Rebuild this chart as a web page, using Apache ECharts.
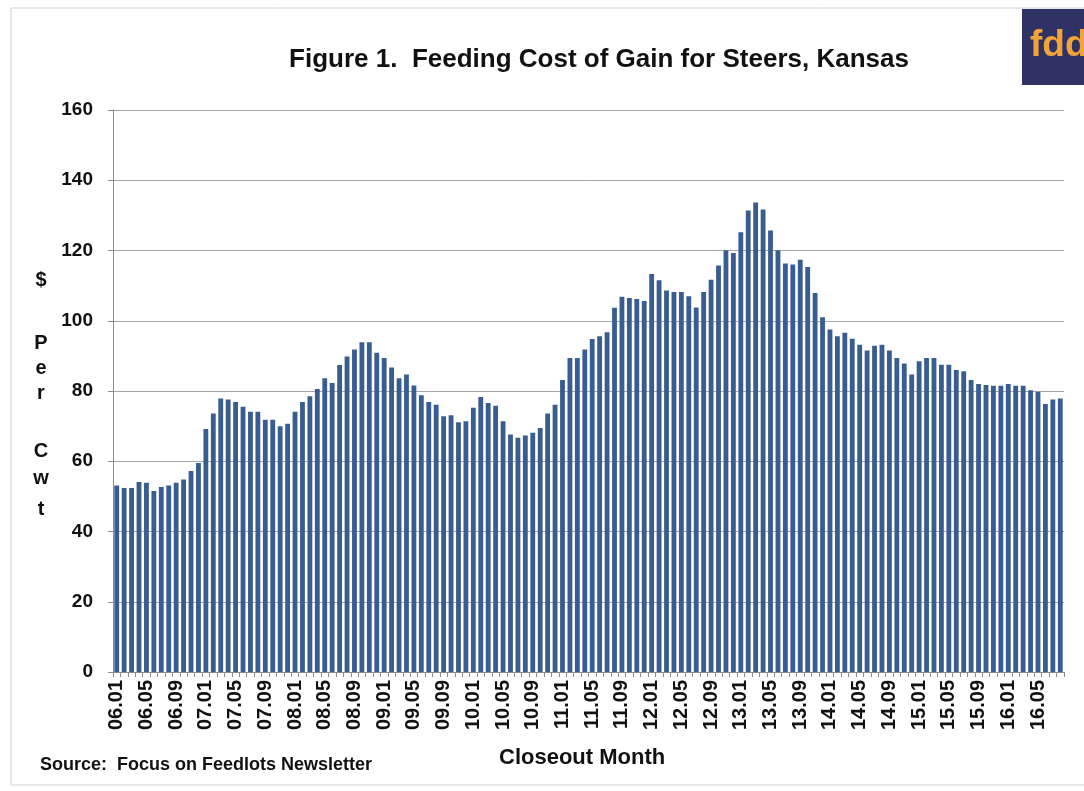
<!DOCTYPE html>
<html><head><meta charset="utf-8">
<script src="https://cdn.jsdelivr.net/npm/echarts@6/dist/echarts.min.js"></script>
<style>html,body{margin:0;padding:0;background:#fff}#c{width:1084px;height:791px}</style>
</head><body><div id="c"></div>
<script>
const years = ['06','07','08','09','10','11','12','13','14','15','16'];
const months = ['01','02','03','04','05','06','07','08','09','10','11','12'];
const lastMonthCount = 8; // 16.01 .. 16.08
const categories = [];
years.forEach((y, yi) => {
  const n = yi === years.length - 1 ? lastMonthCount : 12;
  for (let m = 0; m < n; m++) categories.push(y + '.' + months[m]);
});

const cost2006 = [53.1,52.4,52.4,54.1,53.9,51.5,52.7,53.1,53.9,54.8,57.2,59.5];
const cost2007 = [69.2,73.6,77.9,77.6,76.9,75.5,74.1,74.1,71.8,71.8,70.0,70.7];
const cost2008 = [74.1,76.9,78.5,80.6,83.6,82.3,87.4,89.8,91.8,93.9,93.9,90.9];
const cost2009 = [89.4,86.7,83.6,84.7,81.6,78.8,76.9,76.1,72.8,73.1,71.1,71.4];
const cost2010 = [75.2,78.3,76.6,75.8,71.4,67.6,66.7,67.3,68.1,69.5,73.6,76.1];
const cost2011 = [83.1,89.4,89.4,91.8,94.8,95.6,96.7,103.7,106.8,106.5,106.2,105.6];
const cost2012 = [113.3,111.5,108.6,108.2,108.2,107.0,103.8,108.2,111.7,115.7,120.1,119.3];
const cost2013 = [125.2,131.4,133.7,131.7,125.7,120.1,116.3,116.0,117.4,115.3,107.9,101.0];
const cost2014 = [97.5,95.6,96.6,94.9,93.2,91.5,92.9,93.2,91.5,89.4,87.8,84.7];
const cost2015 = [88.5,89.4,89.4,87.5,87.5,86.0,85.6,83.1,82.0,81.7,81.5,81.5];
const cost2016 = [82.0,81.5,81.5,80.2,79.8,76.3,77.6,77.9];
const values = [].concat(cost2006,cost2007,cost2008,cost2009,cost2010,cost2011,cost2012,cost2013,cost2014,cost2015,cost2016);

const yTicks = [0,20,40,60,80,100,120,140,160];
const FONT = "'Liberation Sans', Arial, sans-serif";

const yTitle = [['$',280],['P',343],['e',368],['r',393],['C',451],['w',478],['t',509]];

const chart = echarts.init(document.getElementById('c'));
chart.setOption({
  backgroundColor: '#ffffff',
  animation: false,
  title: {
    text: 'Figure 1.  Feeding Cost of Gain for Steers, Kansas',
    left: 594, top: 42, textAlign: 'center',
    textStyle: {fontFamily: FONT, fontWeight: 'bold', fontSize: 26, color: '#111'}
  },
  grid: {left: 113, right: 20, top: 110, bottom: 119},
  xAxis: {
    type: 'category', data: categories,
    axisLine: {lineStyle: {color: '#8c8c8c', width: 1}},
    axisTick: {show: true, interval: 0, length: 5, lineStyle: {color: '#8c8c8c'}},
    axisLabel: {interval: 3, rotate: 90, fontFamily: FONT, fontWeight: 'bold', fontSize: 20, color: '#111', margin: 8}
  },
  yAxis: {
    type: 'value', min: yTicks[0], max: yTicks[yTicks.length-1], interval: 20,
    axisLine: {show: true, lineStyle: {color: '#8c8c8c'}},
    axisTick: {show: true, length: 5, lineStyle: {color: '#8c8c8c'}},
    splitLine: {lineStyle: {color: '#a6a6a6', width: 1}},
    axisLabel: {fontFamily: FONT, fontWeight: 'bold', fontSize: 19, color: '#111', margin: 20}
  },
  series: [{
    type: 'bar', data: values, barCategoryGap: '35%',
    itemStyle: {color: '#3a5d91'}
  }],
  graphic: [
    {type: 'rect', shape: {x: 11, y: 8, width: 1100, height: 777}, style: {fill: 'none', stroke: '#d0d0d0', lineWidth: 1}, z: -1},
    {type: 'rect', shape: {x: 1022, y: 9, width: 62, height: 76}, style: {fill: '#2e3265'}},
    {type: 'text', left: 1030, top: 27, style: {text: 'fdd', fill: '#f2a33a', font: "bold 37px " + FONT}},
    {type: 'text', left: 499, top: 747, style: {text: 'Closeout Month', fill: '#111', font: "bold 22px " + FONT}},
    {type: 'text', left: 40, top: 756, style: {text: 'Source:  Focus on Feedlots Newsletter', fill: '#111', font: "bold 18px " + FONT}}
  ].concat(yTitle.map(([t, y]) => ({
    type: 'text', x: 41, y: y, style: {text: t, fill: '#111', font: "bold 20px " + FONT, textAlign: 'center', textVerticalAlign: 'middle'}
  })))
});
</script></body></html>
